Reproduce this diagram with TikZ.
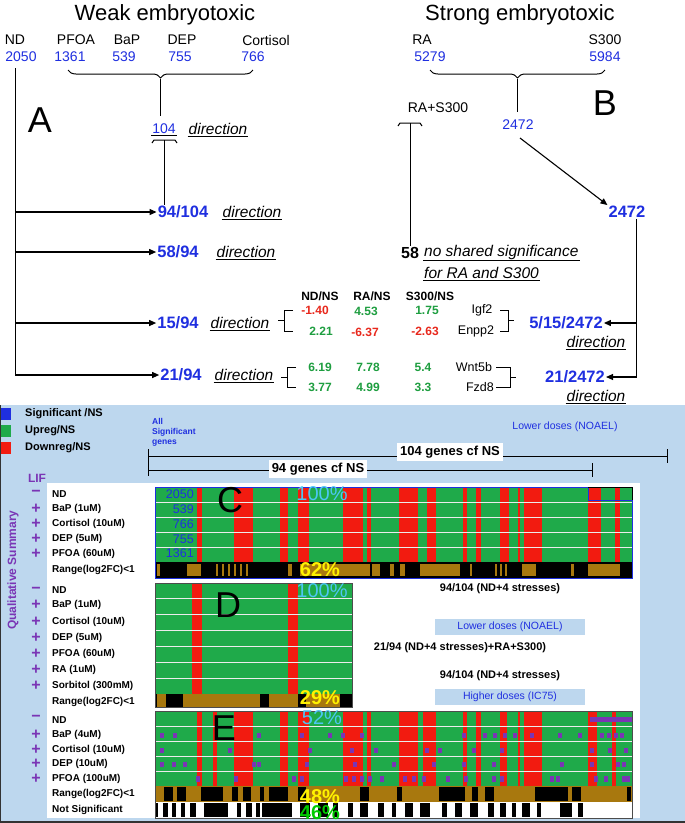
\documentclass[tikz,border=0pt]{standalone}
\usepackage{fontspec}
\setmainfont{Liberation Sans}
\usetikzlibrary{decorations.pathreplacing,arrows.meta}
\definecolor{tblue}{HTML}{1F2FE0}
\definecolor{hgreen}{HTML}{1FAA4A}
\definecolor{hred}{HTML}{F21B10}
\definecolor{hbrown}{HTML}{A8780E}
\definecolor{panel}{HTML}{BDD7EE}
\definecolor{lif}{HTML}{7A35B5}
\definecolor{vgreen}{HTML}{1E9E40}
\definecolor{vred}{HTML}{E8281C}
\tikzset{
 big/.style={font=\fontsize{22}{24}\selectfont},
 lab/.style={font=\fontsize{14}{16}\selectfont},
 num/.style={font=\fontsize{14}{16}\selectfont,text=tblue},
 bnum/.style={font=\fontsize{16.5}{18}\selectfont\bfseries,text=tblue,inner sep=1pt},
 dirt/.style={font=\fontsize{15.5}{17}\selectfont\itshape},
 ul/.style={append after command={(\tikzlastnode.south west)edge[line width=0.6pt,shorten >=0pt](\tikzlastnode.south east)}},
 letter/.style={font=\fontsize{36}{38}\selectfont},
 arr/.style={-{Triangle[length=7pt,width=6pt]},line width=1.1pt},
 ln/.style={line width=1pt},
 tv/.style={font=\fontsize{12}{13}\selectfont\bfseries},
 rowlab/.style={font=\fontsize{10}{11}\selectfont\bfseries,anchor=west,inner sep=0pt},
 pm/.style={font=\fontsize{16}{16}\selectfont\bfseries,text=lif,inner sep=0pt},
 pct/.style={font=\fontsize{20}{20}\selectfont,inner sep=0pt},
 brc/.style={decorate,decoration={brace,amplitude=8pt},line width=1pt},
}
\begin{document}
\begin{tikzpicture}[x=1pt,y=-1pt]
\useasboundingbox (0,0) rectangle (685,823);
\fill[white] (0,0) rectangle (685,823);
% ---------- top part
\node[big] (weak) at (165,15) {Weak embryotoxic};
\node[big] (strong) at (520,15) {Strong embryotoxic};
\node[lab] (nd) at (15,40) {ND};      \node[num] (ndn) at (21,57) {2050};
\node[lab] (pfoa) at (76,40) {PFOA};  \node[num] (pfoan) at (70,57) {1361};
\node[lab] (bap) at (127,40) {BaP};   \node[num] (bapn) at (124,57) {539};
\node[lab] (dep) at (182,40) {DEP};   \node[num] (depn) at (180,57) {755};
\node[lab] (cort) at (266,40) {Cortisol}; \node[num] (cortn) at (253,57) {766};
\node[lab] (ra) at (422,40) {RA};     \node[num] (ran) at (430,57) {5279};
\node[lab] (s300) at (605,40) {S300}; \node[num] (s300n) at (605,57) {5984};
\draw[brc] (253,70) -- (68,70);
\draw[ln] (160.5,79) -- (160.5,116);
\draw[brc] (605,70) -- (430,70);
\draw[ln] (517.5,79) -- (517.5,112);
\node[letter] (A) at (40,120) {A};
\node[letter] (B) at (605,103) {B};
\node[num,ul,inner sep=1pt] (n104) at (164,129) {104};
\node[dirt,ul,inner sep=1pt] (d104) at (218,129) {direction};
\draw[ln] (152,143) -- (154,140) -- (175,140) -- (177,143);
\node[lab] (ras) at (438,108) {RA+S300};
\draw[ln] (398,126) -- (400,123) -- (420,123) -- (422,126);
\node[num] (t2472) at (518,125) {2472};
% left vertical line and arrows
\coordinate (L0) at (15,68);
\coordinate (L4) at (15,375);
\draw[ln] (L0) -- (L4);
\node[bnum] (a94) at (183,212) {94/104};
\node[dirt,ul,inner sep=1pt] (d94) at (252,212) {direction};
\draw[ln] (164,140) -- (a94.north -| 164,0);
\node[bnum] (a58) at (178,252) {58/94};
\node[dirt,ul,inner sep=1pt] (d58) at (246,252) {direction};
\node[bnum] (a15) at (178,323) {15/94};
\node[dirt,ul,inner sep=1pt] (d15) at (240,323) {direction};
\node[bnum] (a21) at (181,375) {21/94};
\node[dirt,ul,inner sep=1pt] (d21) at (244,375) {direction};
\draw[arr] (15,212) -- (a94.west);
\draw[arr] (15,252) -- (a58.west);
\draw[arr] (15,323) -- (a15.west);
\draw[arr] (15,375) -- (a21.west);
% right side
\node[font=\fontsize{16}{17}\selectfont\bfseries,inner sep=1pt] (n58) at (410,253) {58};
\draw[ln] (410,123) -- (n58.north);
\node[dirt,ul,inner sep=1pt,anchor=west] (nss) at (423,252) {no shared significance};
\node[dirt,ul,inner sep=1pt,anchor=west] (nss2) at (423,273) {for RA and S300};
\node[bnum] (b2472) at (627,212) {2472};
\draw[arr] (520,138) -- (b2472.north west);
\draw[ln] (b2472.south -| 636,0) -- (636,378);
\node[bnum] (b15) at (566,323) {5/15/2472};
\node[dirt,ul,inner sep=1pt] (db15) at (596,342) {direction};
\node[bnum] (b21) at (575,377) {21/2472};
\node[dirt,ul,inner sep=1pt] (db21) at (596,396) {direction};
\draw[arr] (636,323) -- (b15.east);
\draw[arr] (636,377) -- (b21.east);
% table
\node[tv] (h1) at (320,296) {ND/NS};
\node[tv] (h2) at (372,296) {RA/NS};
\node[tv] (h3) at (430,296) {S300/NS};
\node[tv,text=vred] (v11) at (315,310) {-1.40};
\node[tv,text=vgreen] (v12) at (366,311) {4.53};
\node[tv,text=vgreen] (v13) at (427,310) {1.75};
\node[tv,text=vgreen] (v21) at (321,331) {2.21};
\node[tv,text=vred] (v22) at (365,332) {-6.37};
\node[tv,text=vred] (v23) at (425,331) {-2.63};
\node[tv,text=vgreen] (v31) at (320,367) {6.19};
\node[tv,text=vgreen] (v32) at (368,367) {7.78};
\node[tv,text=vgreen] (v33) at (423,367) {5.4};
\node[tv,text=vgreen] (v41) at (320,387) {3.77};
\node[tv,text=vgreen] (v42) at (368,387) {4.99};
\node[tv,text=vgreen] (v43) at (423,387) {3.3};
\node[font=\fontsize{12.5}{13}\selectfont] (igf) at (482,310) {Igf2};
\node[font=\fontsize{12.5}{13}\selectfont] (enp) at (476,331) {Enpp2};
\node[font=\fontsize{12.5}{13}\selectfont] (wnt) at (474,367) {Wnt5b};
\node[font=\fontsize{12.5}{13}\selectfont] (fzd) at (480,387) {Fzd8};
% square brackets
\draw[ln] (293,310) -- (284,310) -- (284,331) -- (293,331) (284,320.5) -- (278,320.5);
\draw[ln] (296,367) -- (287,367) -- (287,387) -- (296,387) (287,377) -- (281,377);
\draw[ln] (500,310) -- (508,310) -- (508,331) -- (500,331) (508,320.5) -- (514,320.5);
\draw[ln] (496,367) -- (510,367) -- (510,387) -- (496,387) (510,377) -- (516,377);
% ---------- bottom panel
\fill[panel] (0,405) rectangle (685,823);
\draw[line width=1.5pt,black!80] (0,405) -- (0,822) -- (685,822);
\fill[tblue] (1,408) rectangle (11,420);
\fill[hgreen] (1,425) rectangle (11,437);
\fill[hred] (1,442) rectangle (11,454);
\node[rowlab,font=\fontsize{11}{12}\selectfont\bfseries] (lg1) at (25,414) {Significant /NS};
\node[rowlab,font=\fontsize{11}{12}\selectfont\bfseries] (lg2) at (25,431) {Upreg/NS};
\node[rowlab,font=\fontsize{11}{12}\selectfont\bfseries] (lg3) at (25,448) {Downreg/NS};
\node[rowlab,font=\fontsize{8.5}{10}\selectfont\bfseries,text=tblue,align=left,anchor=north west] (allsig) at (152,418) {All\\Significant\\genes};
\node[font=\fontsize{10.5}{12}\selectfont,text=tblue] (low1) at (565,427) {Lower doses (NOAEL)};
\draw[ln] (148,456) -- (667,456);
\draw[ln] (148,449) -- (148,476); \draw[ln] (667,449) -- (667,463);
\draw[ln] (148,470) -- (592,470); \draw[ln] (592,463) -- (592,477);
\node[fill=white,font=\fontsize{13}{14}\selectfont\bfseries,inner sep=3pt] (g104) at (450,452) {104 genes cf NS};
\node[fill=white,font=\fontsize{13}{14}\selectfont\bfseries,inner sep=3pt] (g94) at (318,469) {94 genes cf NS};
\fill[white] (47,483) rectangle (640,818);
\node[rotate=90,font=\fontsize{12}{14}\selectfont\bfseries,text=lif] (qs) at (13,570) {Qualitative Summary};
\node[font=\fontsize{12}{14}\selectfont\bfseries,text=lif] (lif) at (37,478) {LIF};
% ---- C
\fill[hgreen] (155,487) rectangle (632,562);
\foreach \a/\b in {197/202,234/253,280/288,298/309,343/363,367/371,399/418,427/436,463/467,476/481,500/509,518/520,524/542,588/601,615/620}
  \fill[hred] (\a,487) rectangle (\b,562);
\foreach \y in {502,517,532,547} \draw[white!85!gray,line width=0.5pt] (155,\y) -- (632,\y);
\fill[black] (155,562) rectangle (632,578);
\foreach \a/\b in {157/160,187/201,216/218,222/224,228/230,234/236,240/242,246/248,288/292,300/370,372/380,390/394,400/405,420/460,470/472,495/497,500/502,505/507,522/536,571/574,588/620}
  \fill[hbrown] (\a,564) rectangle (\b,576);
\draw[tblue,line width=1pt] (155,487) -- (588,487) -- (588,500) -- (632,500) -- (632,578) -- (155,578) -- cycle;
\draw[black,line width=1pt] (588,487) -- (632,487) -- (632,500);
\foreach \t/\y in {2050/494,539/509,766/524,755/539,1361/553}
  \node[font=\fontsize{12.5}{13}\selectfont,text=tblue,anchor=east,inner sep=0pt] at (194,\y) {\t};
\node[letter,inner sep=0pt] (C) at (230,500) {C};
\node[pct,text=cyan!70!white] (p100c) at (322,494) {100\%};
\node[pct,text=yellow,font=\fontsize{20}{20}\selectfont\bfseries] (p62) at (320,570) {62\%};
\foreach \t/\y in {ND/494,BaP (1uM)/509,Cortisol (10uM)/524,DEP (5uM)/539,PFOA (60uM)/554,Range(log2FC)<1/570}
  \node[rowlab] at (52,\y) {\t};
\node[pm] at (36,493) {\textminus};
\foreach \y in {509,524,539,554} \node[pm] at (36,\y) {+};
% ---- D
\fill[hgreen] (155,583) rectangle (352,694);
\fill[hred] (192,583) rectangle (202,694);
\fill[hred] (288,583) rectangle (298,694);
\foreach \y in {598,614,630,646,662,678} \draw[white!85!gray,line width=0.5pt] (155,\y) -- (352,\y);
\fill[hbrown] (155,694) rectangle (352,707);
\foreach \a/\b in {155/157,166/183,260/269,298/306,340/352} \fill[black] (\a,694) rectangle (\b,707);
\draw[black!70,line width=0.8pt] (155,583) rectangle (352,707);
\node[letter,inner sep=0pt] (D) at (228,605) {D};
\node[pct,text=cyan!70!white] (p100d) at (322,591) {100\%};
\node[pct,text=yellow,font=\fontsize{20}{20}\selectfont\bfseries] (p29) at (320,698) {29\%};
\foreach \t/\y in {ND/590,BaP (1uM)/605,Cortisol (10uM)/622,DEP (5uM)/638,PFOA (60uM)/654,RA (1uM)/670,Sorbitol (300mM)/686,Range(log2FC)<1/702}
  \node[rowlab] at (52,\y) {\t};
\node[pm] at (36,590) {\textminus};
\foreach \y in {605,622,638,654,670,686} \node[pm] at (36,\y) {+};
\node[font=\fontsize{11}{12}\selectfont\bfseries] (t1) at (500,589) {94/104 (ND+4 stresses)};
\node[fill=panel,minimum width=150pt,font=\fontsize{10.5}{12}\selectfont,text=tblue] (low2) at (510,627) {Lower doses (NOAEL)};
\node[font=\fontsize{11}{12}\selectfont\bfseries] (t2) at (460,648) {21/94 (ND+4 stresses)+RA+S300)};
\node[font=\fontsize{11}{12}\selectfont\bfseries] (t3) at (500,676) {94/104 (ND+4 stresses)};
\node[fill=panel,minimum width=150pt,font=\fontsize{10.5}{12}\selectfont,text=tblue] (high) at (510,697) {Higher doses (IC75)};
% ---- E
\fill[hgreen] (155,711) rectangle (632,786);
\foreach \a/\b in {197/202,213/217,234/253,280/288,298/309,343/363,367/371,399/418,423/436,463/467,476/481,500/507,518/520,524/542,588/597,612/616}
  \fill[hred] (\a,711) rectangle (\b,786);
\foreach \y in {726,741,756,771} \draw[white!85!gray,line width=0.5pt] (155,\y) -- (632,\y);
\fill[lif] (590,717) rectangle (632,722);
\foreach \x in {160,173,257,300,328,341,360,462,483,493,503,513,530,558,578,600,607,614,620}
  \fill[lif] (\x,733) rectangle ++(4,5);
\foreach \x in {160,228,308,350,374,425,438,472,500,590,608,624}
  \fill[lif] (\x,748) rectangle ++(4,5);
\foreach \x in {160,172,183,252,257,305,353,392,432,462,492,560,590,616,622}
  \fill[lif] (\x,762) rectangle ++(4,5);
\foreach \x in {196,234,292,300,344,352,360,368,380,403,412,422,446,464,492,500,550,556,594,604,622,626}
  \fill[lif] (\x,776) rectangle ++(4,6);
\fill[hbrown] (155,786) rectangle (632,802);
\foreach \a/\b in {164/173,177/186,201/223,232/238,243/251,260/264,269/288,298/306,360/369,397/402,439/465,472/478,485/494,535/568,572/581,627/631}
  \fill[black] (\a,787) rectangle (\b,801);
\fill[white] (155,802) rectangle (632,818);
\foreach \a/\b in {155/158,163/168,172/176,181/185,190/196,204/228,237/241,246/252,256/260,262/292,300/310,318/328,333/338,348/353,360/368,378/384,392/396,405/413,420/430,442/447,455/462,470/478,488/494,500/506,512/516,522/530,537/541,560/572,578/583}
  \fill[black] (\a,803) rectangle (\b,817);
\draw[black!70,line width=0.8pt] (155,711) rectangle (632,818);
\node[letter,inner sep=0pt] (E) at (224,728) {E};
\node[pct,text=cyan!70!white] (p52) at (322,718) {52\%};
\node[pct,text=yellow,font=\fontsize{20}{20}\selectfont\bfseries] (p48) at (320,797) {48\%};
\node[pct,text=green!80!black,font=\fontsize{20}{20}\selectfont\bfseries] (p46) at (320,813) {46\%};
\foreach \t/\y in {ND/720,BaP (4uM)/735,Cortisol (10uM)/750,DEP (10uM)/764,PFOA (100uM)/779,Range(log2FC)<1/794,Not Significant/810}
  \node[rowlab] at (52,\y) {\t};
\node[pm] at (36,718) {\textminus};
\foreach \y in {735,750,764,779} \node[pm] at (36,\y) {+};
\end{tikzpicture}
\end{document}
